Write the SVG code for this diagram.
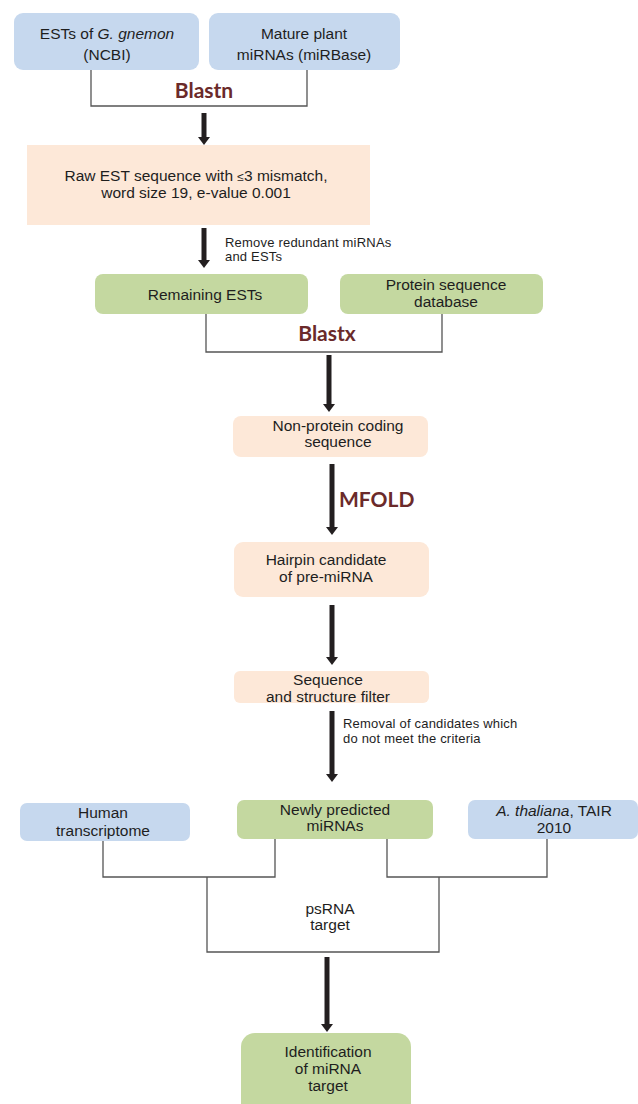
<svg xmlns="http://www.w3.org/2000/svg" width="638" height="1104" viewBox="0 0 638 1104">
<defs>
<style>
.b{fill:#c6d8ee}
.g{fill:#c4d8a0}
.p{fill:#fde8d8}
.t{font-family:"Liberation Sans",Arial,sans-serif;font-size:15.5px;fill:#1e1e1e;text-anchor:middle}
.s{font-family:"Liberation Sans",Arial,sans-serif;font-size:13px;letter-spacing:0.2px;fill:#1e1e1e;text-anchor:start}
.h{font-family:Lato,"Open Sans",sans-serif;font-weight:bold;font-size:21px;fill:#6b2a2a;text-anchor:middle}
.c{fill:none;stroke:#555;stroke-width:1.3}
.a{fill:none;stroke:#231f20;stroke-width:5;marker-end:url(#ah)}
.i{font-style:italic}
</style>
<marker id="ah" viewBox="0 -6 8 12" markerWidth="8" markerHeight="12" refX="0" refY="0" orient="auto" markerUnits="userSpaceOnUse">
<path d="M0,-6 L8,0 L0,6 Z" fill="#231f20"/>
</marker>
</defs>
<rect width="638" height="1104" fill="#ffffff"/>

<g id="connectors">
<path class="c" d="M91,70 V106 H307 V70"/>
<path class="c" d="M206,314 V352 H442 V314"/>
<path class="c" d="M103,841 V877 H275 V839"/>
<path class="c" d="M387,839 V877 H547 V839"/>
<path class="c" d="M207,877 V952 H439 V877"/>
<line class="a" x1="204" y1="113" x2="204" y2="137"/>
<line class="a" x1="204" y1="228" x2="204" y2="260"/>
<line class="a" x1="329" y1="355" x2="329" y2="404"/>
<line class="a" x1="332" y1="464" x2="332" y2="527"/>
<line class="a" x1="332" y1="605" x2="332" y2="657"/>
<line class="a" x1="332" y1="711" x2="332" y2="774"/>
<line class="a" x1="327" y1="957" x2="327" y2="1024"/>
<text class="h" x="204" y="98">Blastn</text>
<text class="h" x="327" y="341">Blastx</text>
<text class="h" x="339" y="507" style="text-anchor:start">MFOLD</text>
<text class="s" x="225" y="247">Remove redundant miRNAs</text>
<text class="s" x="225" y="261">and ESTs</text>
<text class="s" x="343" y="728">Removal of candidates which</text>
<text class="s" x="343" y="743">do not meet the criteria</text>
<text class="t" x="330" y="914">psRNA</text>
<text class="t" x="330" y="930">target</text>
</g>

<g id="ests">
<rect class="b" x="14" y="13" width="185" height="57" rx="9"/>
<text class="t" x="107" y="39">ESTs of <tspan class="i">G. gnemon</tspan></text>
<text class="t" x="107" y="60">(NCBI)</text>
</g>
<g id="mature">
<rect class="b" x="209" y="13" width="191" height="57" rx="9"/>
<text class="t" x="304" y="39">Mature plant</text>
<text class="t" x="304" y="60">miRNAs (miRBase)</text>
</g>
<g id="raw">
<rect class="p" x="27" y="145" width="343" height="80"/>
<text class="t" x="196" y="181">Raw EST sequence with <tspan style="font-size:12px">≤</tspan>3 mismatch,</text>
<text class="t" x="196" y="198">word size 19, e-value 0.001</text>
</g>
<g id="remaining">
<rect class="g" x="95" y="274" width="213" height="40" rx="8"/>
<text class="t" x="205" y="300">Remaining ESTs</text>
</g>
<g id="protein">
<rect class="g" x="340" y="274" width="203" height="40" rx="8"/>
<text class="t" x="446" y="290">Protein sequence</text>
<text class="t" x="446" y="307">database</text>
</g>
<g id="nonprotein">
<rect class="p" x="233" y="416" width="195" height="41" rx="8"/>
<text class="t" x="338" y="431">Non-protein coding</text>
<text class="t" x="338" y="447">sequence</text>
</g>
<g id="hairpin">
<rect class="p" x="234" y="542" width="195" height="55" rx="9"/>
<text class="t" x="326" y="565">Hairpin candidate</text>
<text class="t" x="326" y="582">of pre-miRNA</text>
</g>
<g id="filter">
<rect class="p" x="234" y="671" width="195" height="32" rx="6"/>
<text class="t" x="328" y="685">Sequence</text>
<text class="t" x="328" y="702">and structure filter</text>
</g>
<g id="human">
<rect class="b" x="20" y="803" width="170" height="38" rx="7"/>
<text class="t" x="103" y="818">Human</text>
<text class="t" x="103" y="836">transcriptome</text>
</g>
<g id="newly">
<rect class="g" x="237" y="800" width="196" height="39" rx="7"/>
<text class="t" x="335" y="815">Newly predicted</text>
<text class="t" x="335" y="831">miRNAs</text>
</g>
<g id="athaliana">
<rect class="b" x="468" y="800" width="170" height="39" rx="7"/>
<text class="t" x="554" y="816"><tspan class="i">A. thaliana</tspan>, TAIR</text>
<text class="t" x="554" y="833">2010</text>
</g>
<g id="identification">
<rect class="g" x="241" y="1033" width="170" height="85" rx="14"/>
<text class="t" x="328" y="1057">Identification</text>
<text class="t" x="328" y="1074">of miRNA</text>
<text class="t" x="328" y="1091">target</text>
</g>
</svg>
